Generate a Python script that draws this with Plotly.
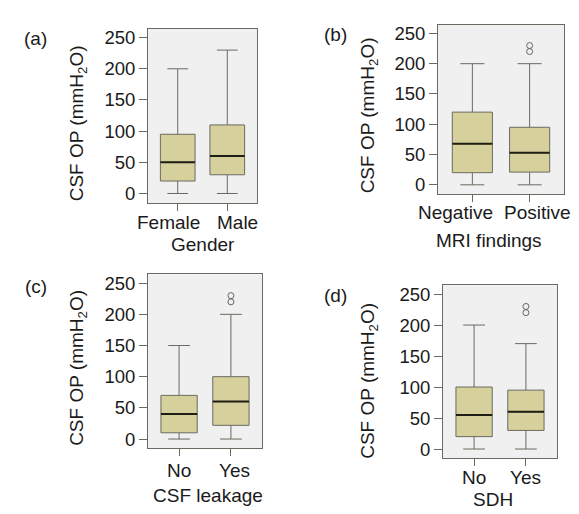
import plotly.graph_objects as go

# ---- data ----
cats_a = ["Female", "Male"]
min_a = [0, 0]; q1_a = [20, 30]; med_a = [50, 60]; q3_a = [95, 110]; max_a = [200, 230]
out_a = [[], []]

cats_b = ["Negative", "Positive"]
min_b = [0, 0]; q1_b = [20, 21]; med_b = [68, 53]; q3_b = [120, 95]; max_b = [200, 200]
out_b = [[], [220, 230]]

cats_c = ["No", "Yes"]
min_c = [0, 0]; q1_c = [10, 22]; med_c = [40, 60]; q3_c = [70, 100]; max_c = [150, 200]
out_c = [[], [220, 230]]

cats_d = ["No", "Yes"]
min_d = [0, 0]; q1_d = [20, 30]; med_d = [55, 60]; q3_d = [100, 95]; max_d = [200, 170]
out_d = [[], [220, 230]]

panel_labels = ["(a)", "(b)", "(c)", "(d)"]
x_titles = ["Gender", "MRI findings", "CSF leakage", "SDH"]
y_title = "CSF OP (mmH<sub>2</sub>O)"
y_ticks = [0, 50, 100, 150, 200, 250]

panels = [
    (cats_a, min_a, q1_a, med_a, q3_a, max_a, out_a),
    (cats_b, min_b, q1_b, med_b, q3_b, max_b, out_b),
    (cats_c, min_c, q1_c, med_c, q3_c, max_c, out_c),
    (cats_d, min_d, q1_d, med_d, q3_d, max_d, out_d),
]

# page is 579x514; the html body has an 8px margin at top/left
OFF = 8
W, H = 579 - OFF, 514 - OFF


def fx(px):
    return (px - OFF) / W


def fy(py):
    return 1 - (py - OFF) / H


# plot-area pixel boxes on the page (left, right, top, bottom)
boxes = [(148, 257, 27, 202), (438, 564, 23, 193), (148, 262, 274, 449), (443, 557, 285, 459)]
label_pos = [(35, 37), (335, 33), (36, 286), (335, 295)]
ytitle_pos = [(78, 122), (369, 114), (78, 368), (369, 381)]
xtitle_pos = [(203, 244), (489, 240), (208, 496), (493, 500)]
# category label vertical centres and horizontal nudges (px)
catlab_y = [222, 212, 471, 478]
catlab_shift = [(-9, 10), (-17, 8), (0, 4), (0, 0)]

FONT = "Liberation Sans, Arial, sans-serif"
FILL = "#d6d09c"
LINE = "#6a6a60"
TXT = "#1a1a1a"
BW = 0.7
FS = 19

fig = go.Figure()
layout = dict(width=W, height=H, margin=dict(l=0, r=0, t=0, b=0),
              paper_bgcolor="white", plot_bgcolor="#f0f0f0", showlegend=False,
              font=dict(family=FONT, size=FS, color=TXT))
annotations = []

for i, (cats, mn, q1, md, q3, mx, outs) in enumerate(panels):
    n = "" if i == 0 else str(i + 1)
    xa, ya = "x" + n, "y" + n
    pos = list(range(len(cats)))
    fig.add_trace(go.Box(x=pos, q1=q1, median=md, q3=q3, lowerfence=mn, upperfence=mx,
                         xaxis=xa, yaxis=ya, width=BW, whiskerwidth=0.6,
                         fillcolor=FILL, line=dict(color=LINE, width=1),
                         boxpoints=False, hoverinfo="skip"))
    # darker median lines
    for p, m in zip(pos, md):
        fig.add_trace(go.Scatter(x=[p - BW / 2, p + BW / 2], y=[m, m], mode="lines",
                                 line=dict(color="#1e1e14", width=2),
                                 xaxis=xa, yaxis=ya, hoverinfo="skip"))
    # outliers
    ox, oy = [], []
    for p, o in zip(pos, outs):
        ox += [p] * len(o); oy += o
    if ox:
        fig.add_trace(go.Scatter(x=ox, y=oy, mode="markers",
                                 marker=dict(symbol="circle-open", size=6,
                                             color="#666666", line=dict(width=1)),
                                 xaxis=xa, yaxis=ya, hoverinfo="skip"))
    l, r, t, b = boxes[i]
    layout["xaxis" + n] = dict(domain=[fx(l), fx(r)], range=[-0.6, 1.6], anchor=ya,
                               tickvals=pos, showticklabels=False, ticks="outside", ticklen=7,
                               tickcolor=LINE, showline=True, linecolor=LINE, mirror=True,
                               showgrid=False, zeroline=False, fixedrange=True)
    layout["yaxis" + n] = dict(domain=[fy(b), fy(t)], range=[-15, 264], anchor=xa,
                               tickvals=y_ticks, ticks="outside", ticklen=8,
                               tickfont=dict(size=18.5, color=TXT),
                               tickcolor=LINE, showline=True, linecolor=LINE, mirror=True,
                               showgrid=False, zeroline=False, fixedrange=True)
    # category labels (nudged apart like the reference)
    for p, c, s in zip(pos, cats, catlab_shift[i]):
        annotations.append(dict(text=c, x=p, xref=xa, y=fy(catlab_y[i]), yref="paper",
                                xshift=s, showarrow=False, xanchor="center", yanchor="middle"))
    lx, ly = label_pos[i]
    annotations.append(dict(text=panel_labels[i], x=fx(lx), y=fy(ly), xref="paper",
                            yref="paper", showarrow=False, xanchor="center", yanchor="middle"))
    tx, ty = ytitle_pos[i]
    annotations.append(dict(text=y_title, x=fx(tx), y=fy(ty), xref="paper",
                            yref="paper", showarrow=False, textangle=-90,
                            xanchor="center", yanchor="middle"))
    gx, gy = xtitle_pos[i]
    annotations.append(dict(text=x_titles[i], x=fx(gx), y=fy(gy), xref="paper",
                            yref="paper", showarrow=False, xanchor="center", yanchor="middle"))

layout["annotations"] = annotations
fig.update_layout(**layout)
fig.write_html("out.html")
